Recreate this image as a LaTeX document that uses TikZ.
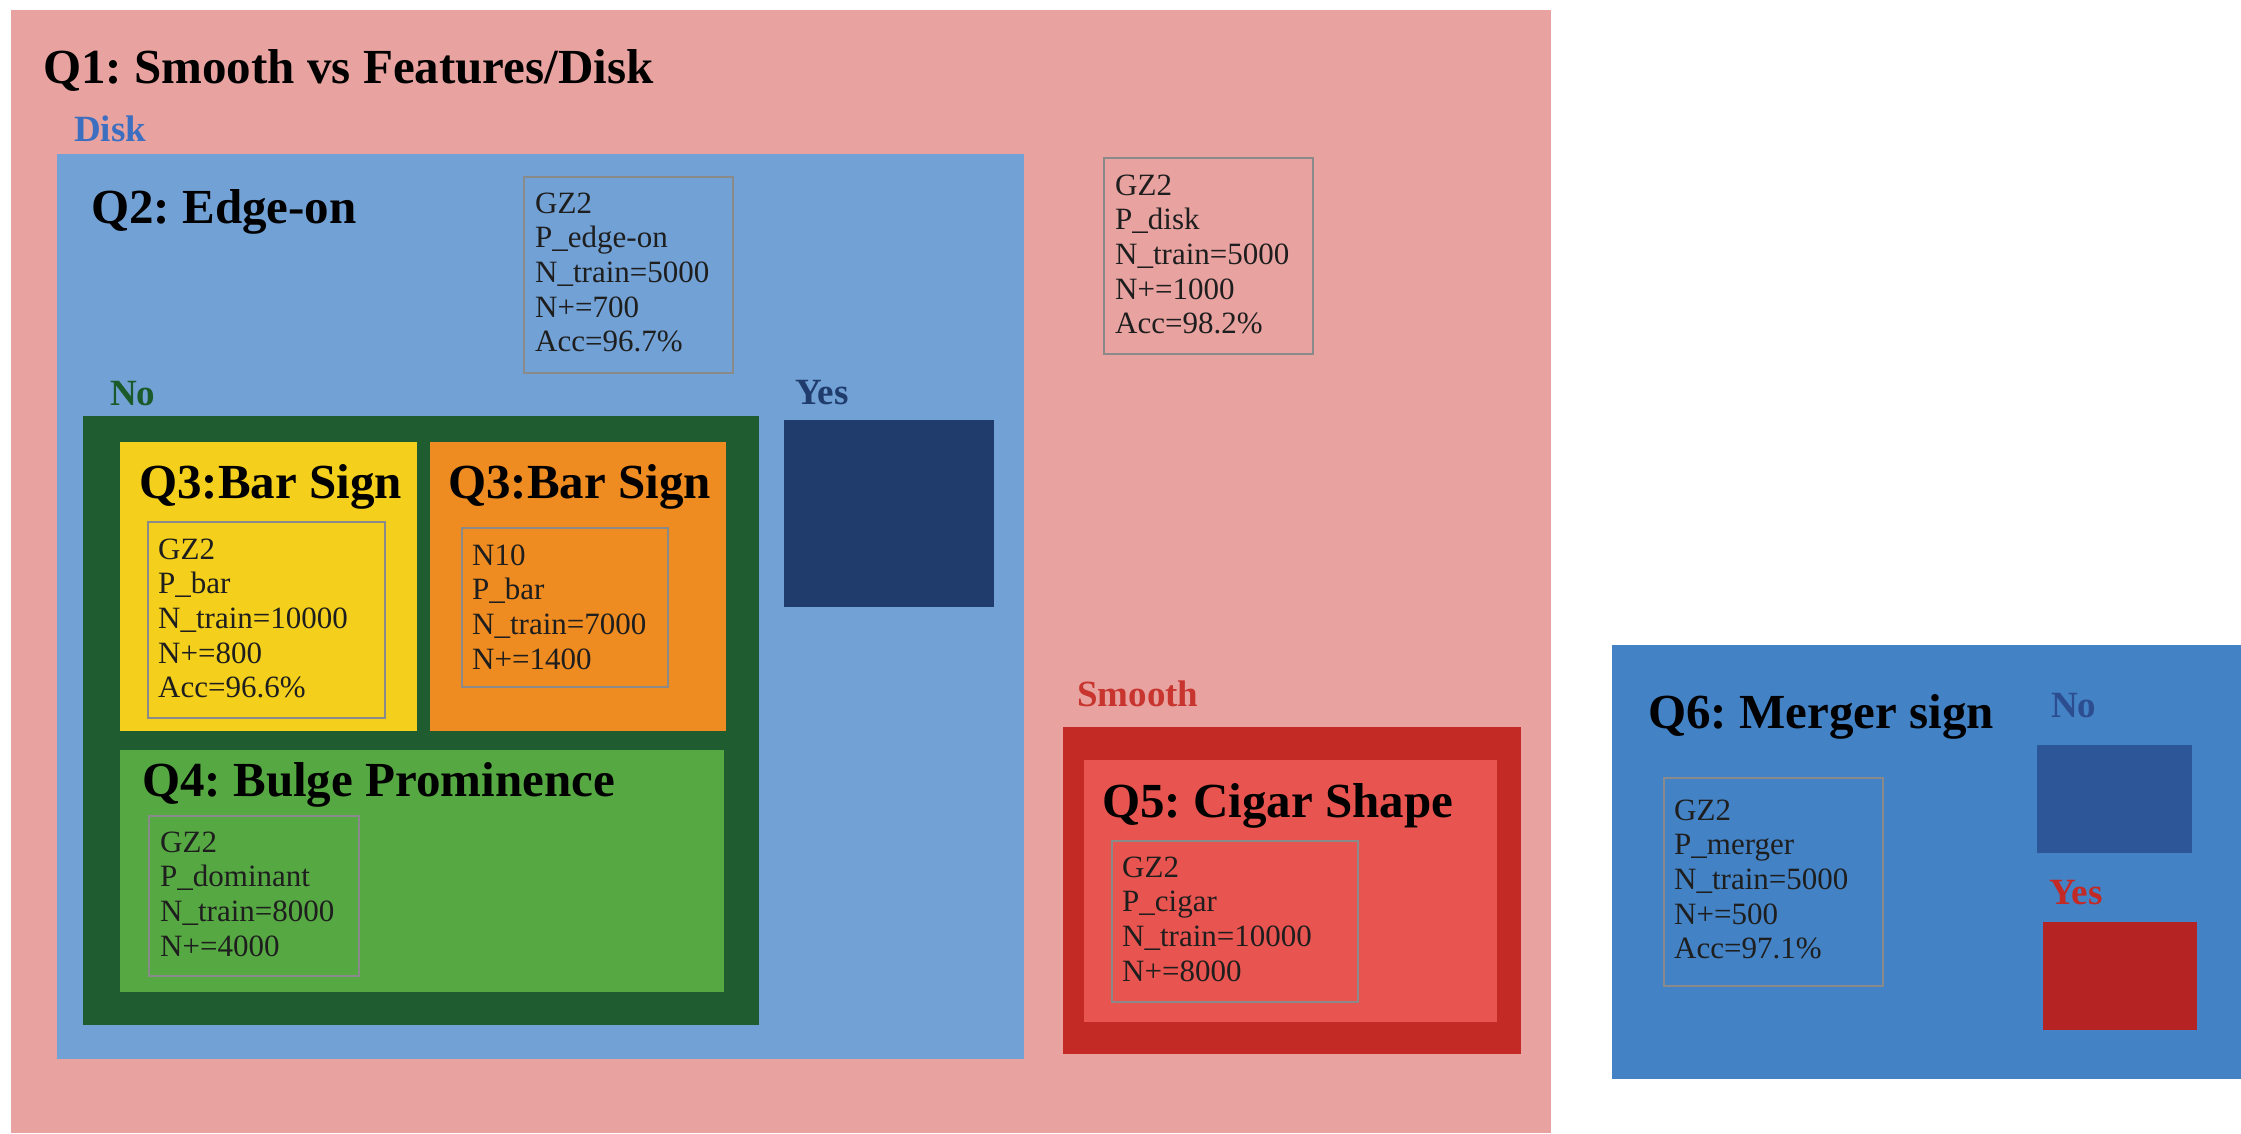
\documentclass[tikz,border=0pt]{standalone}
\usepackage{fontspec}
\setmainfont{Liberation Serif}
\frenchspacing
\definecolor{pinkbg}{HTML}{E8A3A1}
\definecolor{diskblue}{HTML}{72A1D5}
\definecolor{darkgreen}{HTML}{1F5C2F}
\definecolor{baryellow}{HTML}{F4D01C}
\definecolor{barorange}{HTML}{EE8B21}
\definecolor{bulgegreen}{HTML}{56A843}
\definecolor{navy}{HTML}{1F3C6C}
\definecolor{cigarred}{HTML}{C42A25}
\definecolor{salmon}{HTML}{E8544F}
\definecolor{mergeblue}{HTML}{4382C5}
\definecolor{nosq}{HTML}{2D5698}
\definecolor{yessq}{HTML}{B52323}
\definecolor{disklab}{HTML}{3D6FC0}
\definecolor{nolab}{HTML}{1B5A2A}
\definecolor{smoothlab}{HTML}{C8352F}
\definecolor{mnolab}{HTML}{2C4D8F}
\definecolor{boxgray}{HTML}{8A8A8A}
\definecolor{infotext}{HTML}{1E1E1E}
\tikzset{
  titletext/.style={font=\fontsize{49}{51}\selectfont\bfseries, anchor=base west, inner sep=0pt},
  labtext/.style={font=\fontsize{37}{40}\selectfont\bfseries, anchor=base west, inner sep=0pt},
  infoline/.style={font=\fontsize{31}{35}\selectfont, anchor=base west, inner sep=0pt, text=infotext},
  infoframe/.style={draw=boxgray, line width=2.5pt},
}
\newcommand\myinfobox[8]{%
  \draw[infoframe] (#2,#3) rectangle (#4,#5);
  \foreach \t [count=\i] in {#8} {\node[infoline] (#1-\i) at (#6,{#7+34.7*(\i-1)}) {\t};}
}
\begin{document}
\begin{tikzpicture}[x=1pt,y=-1pt]
\useasboundingbox[fill=white] (0,0) rectangle (2241,1133);
% Q1 background
\fill[pinkbg] (11,10) rectangle (1551,1133);
\node[titletext] (q1) at (43,83) {Q1: Smooth vs Features/Disk};
\node[labtext, text=disklab] (disk) at (74,141) {Disk};
% Q2 disk box
\fill[diskblue] (57,154) rectangle (1024,1059);
\node[titletext] (q2) at (91,223) {Q2: Edge-on};
\myinfobox{edge}{524}{177}{733}{373}{535}{213}{GZ2,P\_edge-on,N\_train=5000,N+=700,Acc=96.7\%}
\myinfobox{disk}{1104}{158}{1313}{354}{1115}{195}{GZ2,P\_disk,N\_train=5000,N+=1000,Acc=98.2\%}
\node[labtext, text=nolab] (no2) at (110,405) {No};
\node[labtext, text=navy] (yes2) at (795,404) {Yes};
\fill[navy] (784,420) rectangle (994,607);
% No branch
\fill[darkgreen] (83,416) rectangle (759,1025);
\fill[baryellow] (120,442) rectangle (417,731);
\fill[barorange] (430,442) rectangle (726,731);
\fill[bulgegreen] (120,750) rectangle (724,992);
\node[titletext] (q3a) at (139,498) {Q3:Bar Sign};
\node[titletext] (q3b) at (448,498) {Q3:Bar Sign};
\myinfobox{bar}{148}{522}{385}{718}{158}{559}{GZ2,P\_bar,N\_train=10000,N+=800,Acc=96.6\%}
\myinfobox{nten}{462}{528}{668}{687}{472}{565}{N10,P\_bar,N\_train=7000,N+=1400}
\node[titletext] (q4) at (142,796) {Q4: Bulge Prominence};
\myinfobox{bulge}{149}{816}{359}{976}{160}{852}{GZ2,P\_dominant,N\_train=8000,N+=4000}
% Smooth branch
\node[labtext, text=smoothlab] (smooth) at (1077,706) {Smooth};
\fill[cigarred] (1063,727) rectangle (1521,1054);
\fill[salmon] (1084,760) rectangle (1497,1022);
\node[titletext] (q5) at (1102,817) {Q5: Cigar Shape};
\myinfobox{cigar}{1112}{841}{1358}{1002}{1122}{877}{GZ2,P\_cigar,N\_train=10000,N+=8000}
% Q6
\fill[mergeblue] (1612,645) rectangle (2241,1079);
\node[titletext] (q6) at (1648,728) {Q6: Merger sign};
\node[labtext, text=mnolab] (no6) at (2051,717) {No};
\fill[nosq] (2037,745) rectangle (2192,853);
\node[labtext, text=cigarred] (yes6) at (2049,904) {Yes};
\fill[yessq] (2043,922) rectangle (2197,1030);
\myinfobox{merger}{1664}{778}{1883}{986}{1674}{820}{GZ2,P\_merger,N\_train=5000,N+=500,Acc=97.1\%}
\end{tikzpicture}
\end{document}
